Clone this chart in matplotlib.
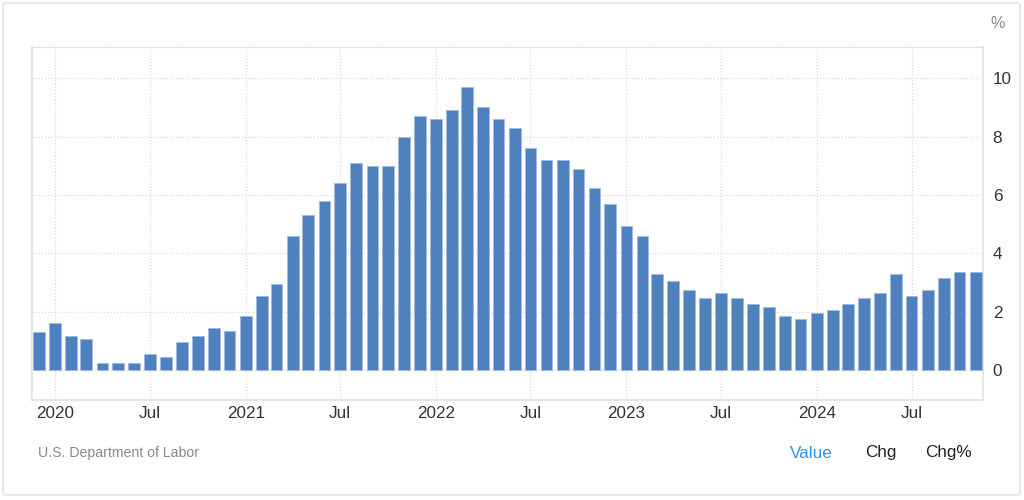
import matplotlib
matplotlib.use("Agg")
import matplotlib.pyplot as plt
from matplotlib.patches import FancyBboxPatch
import pandas as pd

plt.rcParams['font.family'] = ['Liberation Sans', 'DejaVu Sans']

# Monthly values, Dec 2019 .. Nov 2024 (%)
months = pd.date_range("2019-12-01", "2024-11-01", freq="MS")
values = [1.3, 1.6, 1.15, 1.05, 0.25, 0.25, 0.25, 0.55, 0.45, 0.95, 1.15, 1.45,
          1.35, 1.85, 2.55, 2.95, 4.6, 5.3, 5.8, 6.4, 7.1, 7.0, 7.0, 8.0,
          8.7, 8.6, 8.9, 9.7, 9.0, 8.6, 8.3, 7.6, 7.2, 7.2, 6.9, 6.25,
          5.7, 4.95, 4.6, 3.3, 3.05, 2.75, 2.45, 2.65, 2.45, 2.25, 2.15, 1.85,
          1.75, 1.95, 2.05, 2.25, 2.45, 2.65, 3.3, 2.55, 2.75, 3.15, 3.35, 3.35]

xtick_dates = pd.to_datetime(["2020-01-01", "2020-07-01", "2021-01-01", "2021-07-01",
                              "2022-01-01", "2022-07-01", "2023-01-01", "2023-07-01",
                              "2024-01-01", "2024-07-01"])
xtick_labels = ["2020", "Jul", "2021", "Jul", "2022", "Jul", "2023", "Jul", "2024", "Jul"]
yticks = [0, 2, 4, 6, 8, 10]

fig = plt.figure(figsize=(10.24, 5.0), dpi=100)
fig.patch.set_facecolor("white")

border = FancyBboxPatch((3 / 1024, 5 / 500), 1017 / 1024, 492 / 500,
                        boxstyle="round,pad=0,rounding_size=0.004",
                        transform=fig.transFigure, facecolor="none",
                        edgecolor="#e3e3e3", linewidth=1.2, zorder=-1)
fig.patches.append(border)

ax = fig.add_axes([32 / 1024, 0.2, (983 - 32) / 1024, (400 - 47) / 500])
ax.set_facecolor("none")
ax.set_zorder(2)

ax.bar(months, values, width=22.4, color="#4f81bf", edgecolor="#9fbbe0",
       linewidth=0.6, zorder=3)

ax.set_xlim(pd.Timestamp("2019-11-18"), pd.Timestamp("2024-11-15"))
ax.set_ylim(-1.03, 11.07)

ax.set_xticks(xtick_dates)
ax.set_xticklabels(xtick_labels)
ax.set_yticks(yticks)
ax.set_yticklabels([str(v) for v in yticks])
ax.yaxis.tick_right()
ax.tick_params(axis="both", length=0, labelsize=12.3, colors="#333333")
ax.tick_params(axis="y", pad=7)
ax.tick_params(axis="x", pad=4)

ax.grid(True, linestyle=(0, (1, 1.5)), color="#dcdcdc", linewidth=0.9, zorder=0)
ax.set_axisbelow(True)

for side in ["left", "right", "bottom"]:
    ax.spines[side].set_color("#e2e2e2")
    ax.spines[side].set_linewidth(1.2)
ax.spines["top"].set_color("#dcdcdc")
ax.spines["top"].set_linestyle((0, (1, 1.5)))
ax.spines["top"].set_linewidth(0.9)

fig.text(990 / 1024, 1 - 23 / 500, "%", fontsize=11.5, color="#888888",
         ha="left", va="center")

fig.text(38 / 1024, 1 - 453 / 500, "U.S. Department of Labor", fontsize=10.2,
         color="#8a8a8a", ha="left", va="center")
fig.text(790 / 1024, 1 - 453 / 500, "Value", fontsize=12.3, color="#2b95f0",
         ha="left", va="center")
fig.text(865 / 1024, 1 - 453 / 500, "Chg", fontsize=12.3, color="#222222",
         ha="left", va="center")
fig.text(925 / 1024, 1 - 453 / 500, "Chg%", fontsize=12.3, color="#222222",
         ha="left", va="center")

fig.savefig("out.png", dpi=100, facecolor="white")
